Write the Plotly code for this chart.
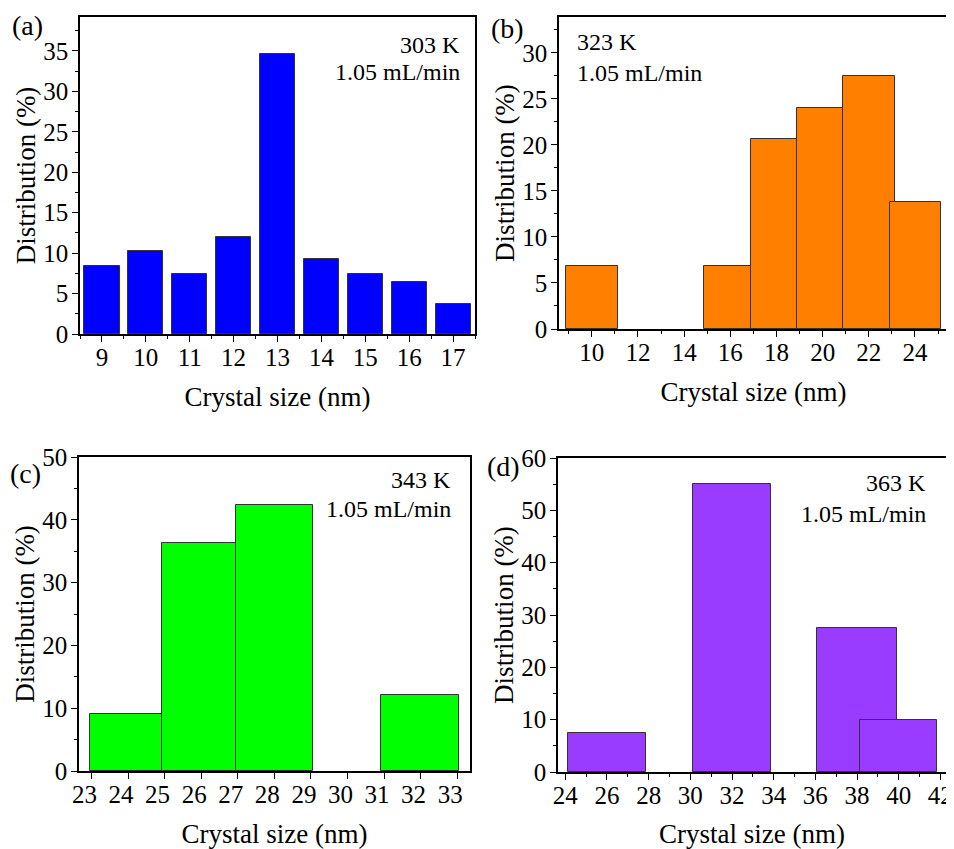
import plotly.graph_objects as go

# ---------------- data ----------------
a_size = [9, 10, 11, 12, 13, 14, 15, 16, 17]
a_dist = [8.35, 10.24, 7.45, 12.05, 34.68, 9.26, 7.45, 6.42, 3.74]
a_width = [0.8] * 9

b_size = [10, 15.88, 17.88, 19.89, 22.02, 24.03]
b_dist = [6.81, 6.81, 20.65, 24.06, 27.54, 13.77]
b_width = [2.24, 2.0, 2.0, 2.0, 2.26, 2.23]

c_size = [23.95, 25.94, 28.0, 31.99]
c_dist = [9.05, 36.3, 42.3, 12.05]
c_width = [1.99, 2.0, 2.12, 2.12]

d_size = [26, 32, 38, 40]
d_dist = [7.47, 55.0, 27.44, 9.96]
d_width = [3.76, 3.72, 3.8, 3.72]

temps = ["303 K", "323 K", "343 K", "363 K"]
flow = "1.05 mL/min"
panel_labels = ["(a)", "(b)", "(c)", "(d)"]
colors = ["#0000FF", "#FF8000", "#00FF00", "#9A3CFF"]

OFF = 8  # page body margin offset
W, H = 954 - OFF, 849 - OFF
FONT = "Liberation Serif"

# target pixel boxes in the page: (left, right, top, bottom)
boxes = [(80, 475, 17, 334), (559, 948, 17, 329), (79, 470, 457, 771), (558, 946, 458, 772)]
xtitle_standoff = [17, 17, 20, 19]

def px(x):
    return (x - OFF) / W

def py(y):
    return 1 - (y - OFF) / H

def dom(b):
    l, r, t, bt = b
    return [px(l), px(r)], [py(bt), py(t)]

fig = go.Figure()
series = [(a_size, a_dist, a_width), (b_size, b_dist, b_width),
          (c_size, c_dist, c_width), (d_size, d_dist, d_width)]
for i, (x, y, w) in enumerate(series):
    suf = "" if i == 0 else str(i + 1)
    fig.add_trace(go.Bar(x=x, y=y, width=w, xaxis="x" + suf, yaxis="y" + suf,
                         marker=dict(color=colors[i], line=dict(color="#333333", width=1)),
                         showlegend=False))

xcfg = [
    dict(range=[8.5, 17.5], dtick=1, tick0=9, minor=dict(dtick=1, tick0=8.5)),
    dict(range=[8.58, 25.43], dtick=2, tick0=10, minor=dict(dtick=2, tick0=9)),
    dict(range=[22.66, 33.35], dtick=1, tick0=23, minor=None, ticklabelshift=-7),
    dict(range=[23.65, 42.27], dtick=2, tick0=24, minor=dict(dtick=2, tick0=25)),
]
ycfg = [
    dict(range=[0, 39.2], dtick=5, minor=dict(dtick=5, tick0=2.5)),
    dict(range=[0, 33.9], dtick=5, minor=dict(dtick=5, tick0=2.5)),
    dict(range=[0, 50], dtick=10, minor=dict(dtick=10, tick0=5)),
    dict(range=[0, 60], dtick=10, minor=dict(dtick=10, tick0=5)),
]

axis_common = dict(showline=True, linecolor="black", linewidth=1.5, mirror=True,
                   ticks="outside", ticklen=6, tickwidth=1.2, tickcolor="black",
                   showgrid=False, zeroline=False, automargin=False,
                   tickfont=dict(family=FONT, size=25, color="black"))

layout = {}
for i in range(4):
    suf = "" if i == 0 else str(i + 1)
    xd, yd = dom(boxes[i])
    xc = dict(xcfg[i])
    mn = xc.pop("minor")
    xa = dict(axis_common, domain=xd, anchor="y" + suf, tickmode="linear", ticklabelstandoff=-6, **xc,
              title=dict(text="Crystal size (nm)", font=dict(family=FONT, size=27, color="black"),
                         standoff=xtitle_standoff[i]))
    if mn:
        xa["minor"] = dict(ticks="outside", ticklen=3, tickwidth=1.2, tickcolor="black",
                           showgrid=False, **mn)
    yc = dict(ycfg[i])
    ymn = yc.pop("minor")
    ya = dict(axis_common, domain=yd, anchor="x" + suf, tickmode="linear", tick0=0, **yc,
              ticklabelstandoff=-1,
              title=dict(text="Distribution (%)", font=dict(family=FONT, size=27, color="black"),
                         standoff=0),
              minor=dict(ticks="outside", ticklen=3, tickwidth=1.2, tickcolor="black",
                         showgrid=False, **ymn))
    layout["xaxis" + suf] = xa
    layout["yaxis" + suf] = ya

annotations = []
# temperature / flow text positions (page pixels)
txt_pos = [(462, 45, 72, "right"), (575, 42, 73, "left"), (453, 480, 509, "right"), (928, 483, 514, "right")]
for i, (tx, y1, y2, al) in enumerate(txt_pos):
    for t, ty in ((temps[i], y1), (flow, y2)):
        annotations.append(dict(text=t, x=px(tx), y=py(ty), xref="paper", yref="paper",
                                xanchor=al, yanchor="middle", showarrow=False,
                                font=dict(family=FONT, size=24, color="black")))
lab_pos = [(27, 26), (507, 29), (25, 474), (503, 466)]
for i, (lx, ly) in enumerate(lab_pos):
    annotations.append(dict(text=panel_labels[i], x=px(lx), y=py(ly), xref="paper", yref="paper",
                            xanchor="center", yanchor="middle", showarrow=False,
                            font=dict(family=FONT, size=28, color="black")))

fig.update_layout(template="none", width=W, height=H, margin=dict(l=0, r=0, t=0, b=0),
                  paper_bgcolor="white", plot_bgcolor="white", bargap=0,
                  annotations=annotations, **layout)

fig.write_html("out.html")
